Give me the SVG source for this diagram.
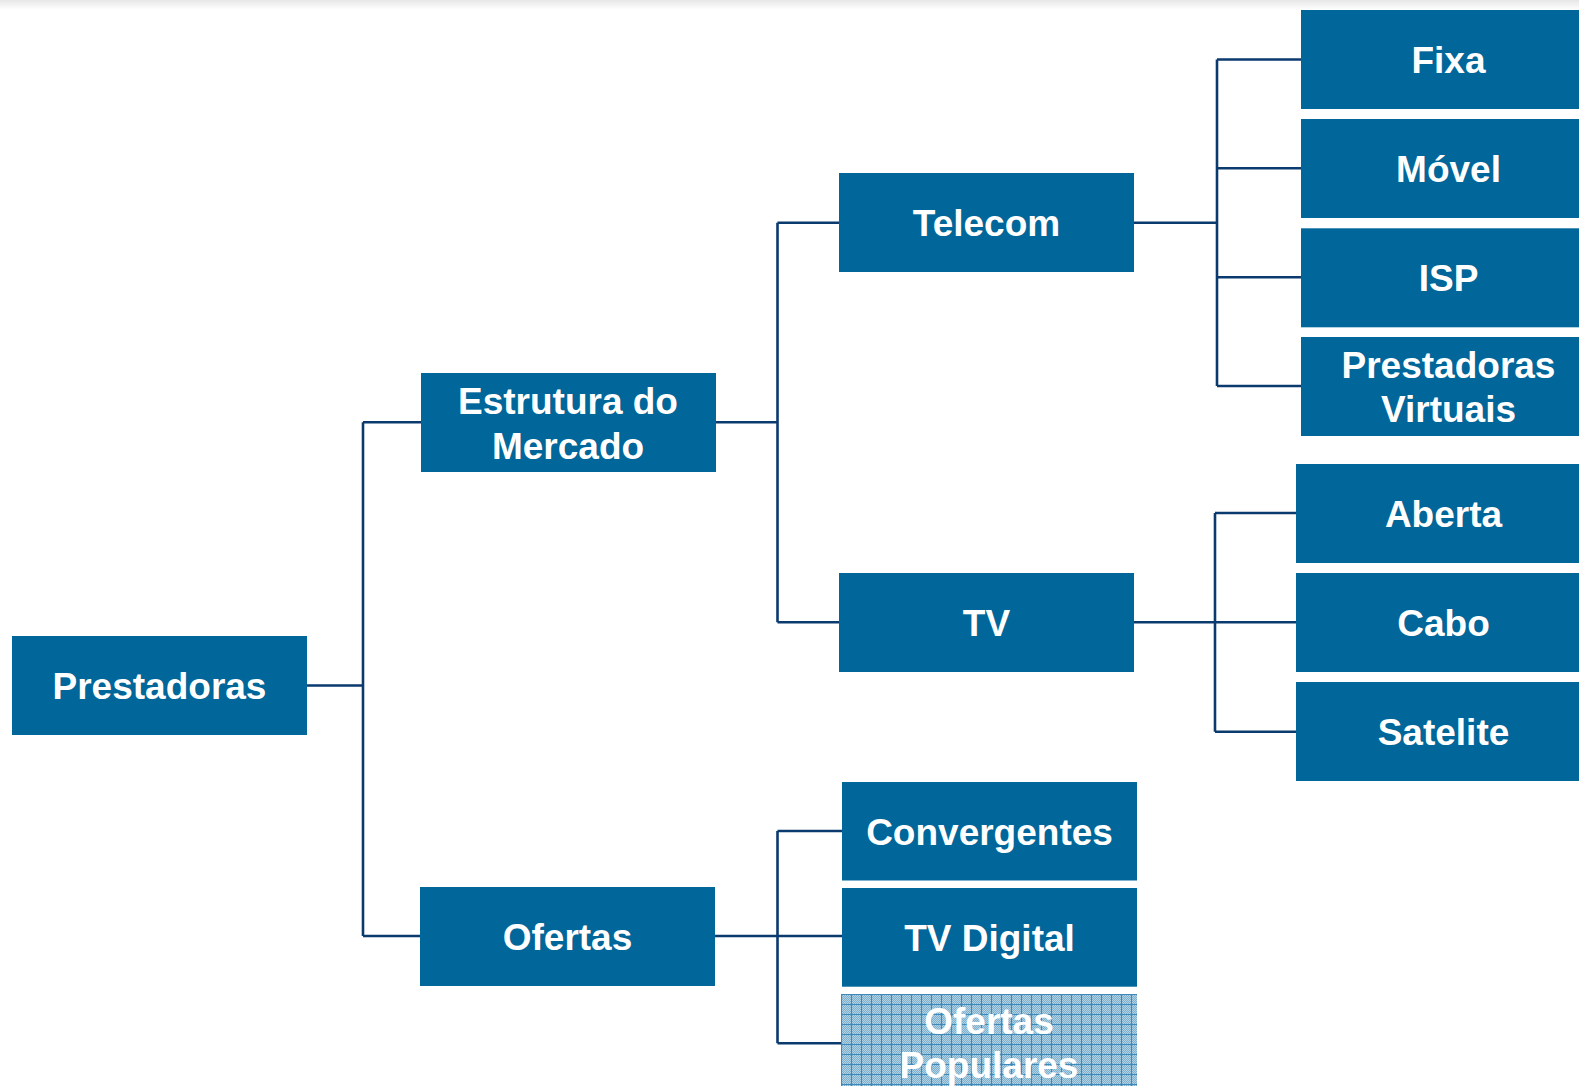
<svg xmlns="http://www.w3.org/2000/svg" width="1579" height="1086" viewBox="0 0 1579 1086">
<style>
.box{fill:#016699}
.lbl{font-family:"Liberation Sans",Arial,sans-serif;font-weight:bold;font-size:37px;fill:#ffffff;text-anchor:middle}
.con{fill:none;stroke:#0b3a6f;stroke-width:2.6}
</style>
<defs>
<linearGradient id="topShade" x1="0" y1="0" x2="0" y2="1">
<stop offset="0" stop-color="#e6e6e6"/>
<stop offset="1" stop-color="#ffffff"/>
</linearGradient>
<pattern id="dither" width="2" height="2" patternUnits="userSpaceOnUse">
<rect width="2" height="2" fill="#b3d1e3"/>
<rect width="1" height="1" fill="#7cb0cd"/>
<rect x="1" y="1" width="1" height="1" fill="#7cb0cd"/>
</pattern>
<pattern id="grid" x="841" y="994" width="10" height="10" patternUnits="userSpaceOnUse">
<rect width="10" height="10" fill="url(#dither)"/>
<path d="M0 0.5H10M0.5 0V10" stroke="#3f88b8" stroke-width="1.1" fill="none"/>
</pattern>
</defs>
<rect width="1579" height="1086" fill="#ffffff"/>
<rect width="1579" height="10" fill="url(#topShade)"/>
<g id="connectors">
<path class="con" d="M306 685.5H363M363 422.3V936M363 422.3H421M363 936H420"/>
<path class="con" d="M715 422.3H777.5M777.5 222.7V622.3M777.5 222.7H839M777.5 622.3H839"/>
<path class="con" d="M1134 222.7H1217M1217 59.5V386M1217 59.5H1301M1217 168.3H1301M1217 277.3H1301M1217 386H1301"/>
<path class="con" d="M1134 622.3H1215M1215 513V731.7M1215 513H1296M1215 622.3H1296M1215 731.7H1296"/>
<path class="con" d="M715 936H777.5M777.5 831V1043.3M777.5 831H842M777.5 936H842M777.5 1043.3H841"/>
</g>
<g id="prestadoras"><rect class="box" x="12" y="636" width="295" height="99"/><text class="lbl" x="159.5" y="699">Prestadoras</text></g>
<g id="estrutura"><rect class="box" x="421" y="373" width="295" height="99"/><text class="lbl" x="568" y="413.5">Estrutura do</text><text class="lbl" x="568" y="459">Mercado</text></g>
<g id="ofertas"><rect class="box" x="420" y="887" width="295" height="99"/><text class="lbl" x="567.5" y="949.5">Ofertas</text></g>
<g id="telecom"><rect class="box" x="839" y="173" width="295" height="99"/><text class="lbl" x="986.5" y="236">Telecom</text></g>
<g id="tv"><rect class="box" x="839" y="573" width="295" height="99"/><text class="lbl" x="986.5" y="635.7">TV</text></g>
<g id="fixa"><rect class="box" x="1301" y="10" width="295" height="99"/><text class="lbl" x="1448.5" y="73">Fixa</text></g>
<g id="movel"><rect class="box" x="1301" y="119" width="295" height="99"/><text class="lbl" x="1448.5" y="182">Móvel</text></g>
<g id="isp"><rect class="box" x="1301" y="228.3" width="295" height="99"/><text class="lbl" x="1448.5" y="291">ISP</text></g>
<g id="prestadoras-virtuais"><rect class="box" x="1301" y="337" width="295" height="99"/><text class="lbl" x="1448.5" y="377.7">Prestadoras</text><text class="lbl" x="1448.5" y="421.7">Virtuais</text></g>
<g id="aberta"><rect class="box" x="1296" y="464" width="295" height="99"/><text class="lbl" x="1443.5" y="526.5">Aberta</text></g>
<g id="cabo"><rect class="box" x="1296" y="573" width="295" height="99"/><text class="lbl" x="1443.5" y="635.5">Cabo</text></g>
<g id="satelite"><rect class="box" x="1296" y="682" width="295" height="99"/><text class="lbl" x="1443.5" y="744.5">Satelite</text></g>
<g id="convergentes"><rect class="box" x="842" y="782" width="295" height="98.5"/><text class="lbl" x="989.5" y="844.5">Convergentes</text></g>
<g id="tv-digital"><rect class="box" x="842" y="888" width="295" height="98.7"/><text class="lbl" x="989.5" y="950.5">TV Digital</text></g>
<g id="ofertas-populares"><rect x="841" y="994" width="296" height="99" fill="url(#grid)"/><text class="lbl" x="989" y="1034">Ofertas</text><text class="lbl" x="989" y="1078">Populares</text></g>
</svg>
